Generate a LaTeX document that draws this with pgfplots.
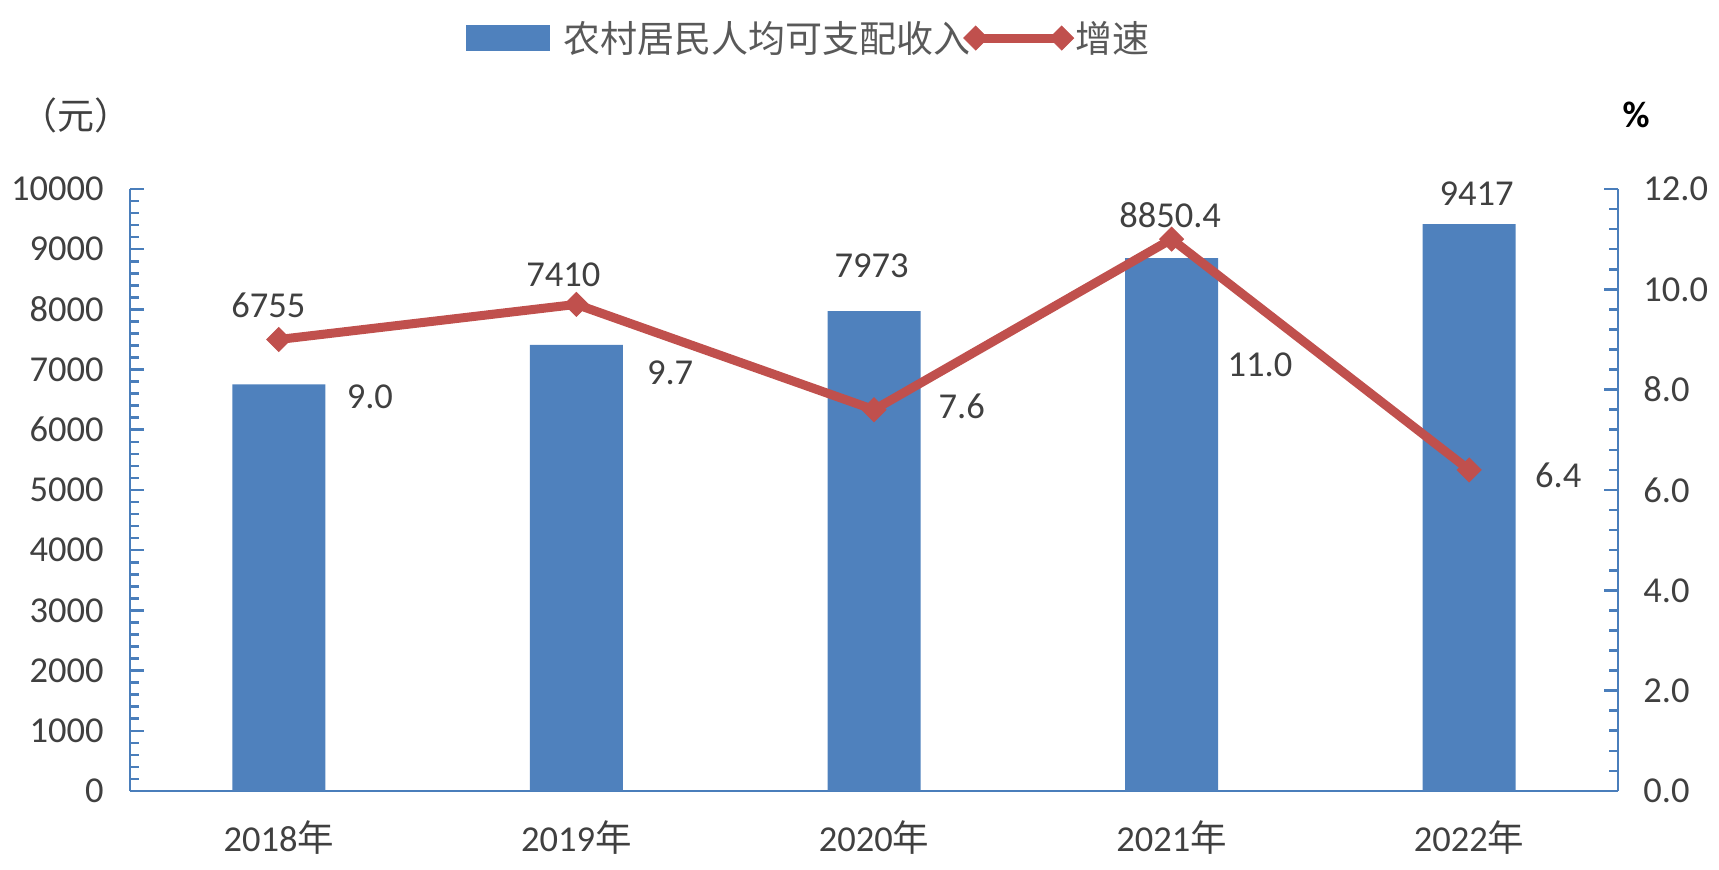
\documentclass[border=0pt]{standalone}
\usepackage{fontspec}
\setmainfont{Carlito}
\newfontfamily\cjk{Noto Sans CJK SC}
\usepackage{pgfplots}
\usepackage{pgfplotstable}
\pgfplotsset{compat=1.18}
\usetikzlibrary{calc}

\definecolor{barblue}{HTML}{4F81BD}
\definecolor{linered}{HTML}{C0504D}
\definecolor{axisblue}{HTML}{4A7EBB}
\definecolor{txt}{HTML}{404040}
\definecolor{legtxt}{HTML}{595959}

\newcommand{\numfont}{\fontsize{18.25bp}{20bp}\selectfont}

% per capita disposable income of rural residents (yuan)
\pgfplotstableread{
x income
0 6755
1 7410
2 7973
3 8850.4
4 9417
}\income

% growth rate (%)
\pgfplotstableread{
x rate
0 9.0
1 9.7
2 7.6
3 11.0
4 6.4
}\rate

% label positions, as placed in the original chart
\pgfplotstableread{
x y label
-0.035 8073 6755
0.956 8571 7410
1.992 8721 7973
2.995 9568 8850.4
4.025 9929 9417
}\incomelabels

\pgfplotstableread{
x y label
0.306 7.86 9.0
1.315 8.33 9.7
2.295 7.66 7.6
3.297 8.49 11.0
4.299 6.30 6.4
}\ratelabels

\pgfplotsset{
  common/.style={
    width=744bp, height=301bp, scale only axis,
    xmin=-0.5, xmax=4.5, clip=false,
    tick label style={font=\numfont, text=txt},
    /pgf/number format/assume math mode=true,
    scaled y ticks=false,
    axis line style={axisblue, line width=1.3bp},
    ytick style={axisblue, line width=1.3bp},
    tick align=inside,
    major tick length=7bp, minor tick length=4.5bp,
    minor y tick num=4,
  },
  labels/.style={
    only marks, mark=*, mark size=0pt, mark options={draw=none, fill=none},
    nodes near coords, point meta=explicit symbolic,
    nodes near coords style={anchor=center, inner sep=0pt, font=\numfont, text=txt},
    forget plot,
  },
  barlegend/.style={
    legend image code/.code={\fill[barblue] (0bp,-6.15bp) rectangle (41.5bp,6.15bp);}},
  linelegend/.style={
    legend image code/.code={\draw[##1] plot coordinates {(0bp,0bp) (43bp,0bp)};}},
}

\begin{document}
\begin{tikzpicture}
\begin{axis}[common,
  axis x line*=bottom, axis y line*=left,
  ymin=0, ymax=10000, ytick={0,1000,...,10000},
  xtick={0,...,4},
  xticklabels={2018{\cjk 年},2019{\cjk 年},2020{\cjk 年},2021{\cjk 年},2022{\cjk 年}},
  xtick style={draw=none},
  xticklabel style={anchor=center, inner sep=0pt, yshift=-23.5bp},
  yticklabel style={anchor=east, inner sep=0pt, xshift=-13bp},
  /pgf/number format/1000 sep={},
]
\addplot[ybar, bar width=0.3125, bar shift=0pt, fill=barblue, draw=none] table[x=x, y=income] {\income};
\addplot[labels] table[x=x, y=y, meta=label] {\incomelabels};
\coordinate (o) at (rel axis cs:0,0);
\node[font=\fontsize{18.5bp}{22bp}\selectfont\cjk, text=txt] at (rel axis cs:-0.0366,1.123) {（元）};
\node[font=\fontsize{18.5bp}{22bp}\selectfont\bfseries, text=black] at (rel axis cs:1.0121,1.123) {\%};
\end{axis}

\begin{axis}[common,
  axis x line=none, axis y line*=right,
  ymin=0, ymax=12, ytick={0,2,...,12},
  yticklabel style={anchor=west, inner sep=0pt, xshift=12.5bp,
    /pgf/number format/fixed, /pgf/number format/fixed zerofill,
    /pgf/number format/precision=1},
  legend columns=-1,
  legend style={at={(0.2258,1.2508)}, anchor=west, draw=none, fill=none,
    inner sep=0pt, outer sep=0pt, nodes={inner sep=0pt},
    font=\fontsize{18.5bp}{22bp}\selectfont\cjk, text=legtxt,
    /tikz/column 1/.style={column sep=7bp},
    /tikz/column 2/.style={column sep=-3.5bp},
    /tikz/column 3/.style={column sep=1bp}},
]
\addlegendimage{barlegend}
\addlegendentry{农村居民人均可支配收入}
\addplot[linered, line width=4.5bp, mark=square*, mark size=4.2bp,
  mark options={rotate=45, line width=0.5bp, fill=linered, solid}, linelegend]
  table[x=x, y=rate] {\rate};
\addlegendentry{增速}
\addplot[labels] table[x=x, y=y, meta=label] {\ratelabels};
\end{axis}

\pgfresetboundingbox
\path[use as bounding box] ($(o)+(-65bp,-39.5bp)$) rectangle ++(859.5bp,435bp);
\end{tikzpicture}
\end{document}
